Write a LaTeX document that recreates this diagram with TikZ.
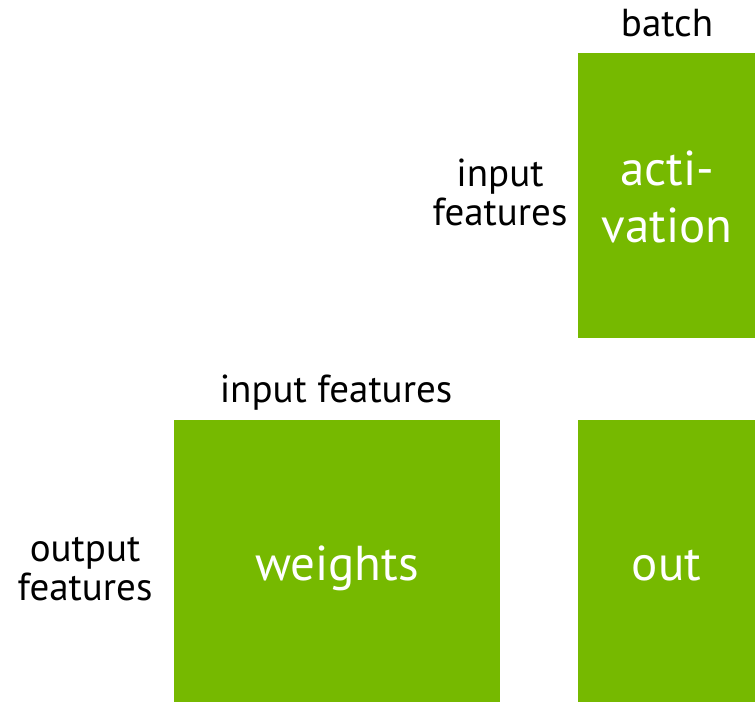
\documentclass[tikz,border=0pt]{standalone}
\usepackage{fontspec}
\setmainfont{PT Sans}
\definecolor{nvgreen}{HTML}{76B900}
\begin{document}
\begin{tikzpicture}[x=1pt,y=-1pt,
  block/.style={fill=nvgreen,draw=none,inner sep=0pt},
  btext/.style={text=white,inner sep=0pt,align=center,anchor=base,
    font=\fontsize{49}{57}\selectfont},
  lbl/.style={text=black,inner sep=0pt,align=center,anchor=base,font=\fontsize{39}{39}\selectfont}]
\useasboundingbox (0,0) rectangle (755,702);
\node[block,minimum width=177pt,minimum height=285pt] (act) at (666.5,195.5) {};
\node[block,minimum width=326pt,minimum height=282pt] (w) at (337,561) {};
\node[block,minimum width=177pt,minimum height=282pt] (out) at (666.5,561) {};
\node[btext] (actt) at (667,242) {acti-\\vation};
\node[btext] (wt) at (337,580) {weights};
\node[btext] (outt) at (666.5,580) {out};
\node[lbl] (batch) at (667,36) {batch};
\node[lbl] (inf1) at (500,225) {input\\features};
\node[lbl] (inf2) at (336,402) {input features};
\node[lbl] (outf) at (85,600) {output\\features};
\end{tikzpicture}
\end{document}
